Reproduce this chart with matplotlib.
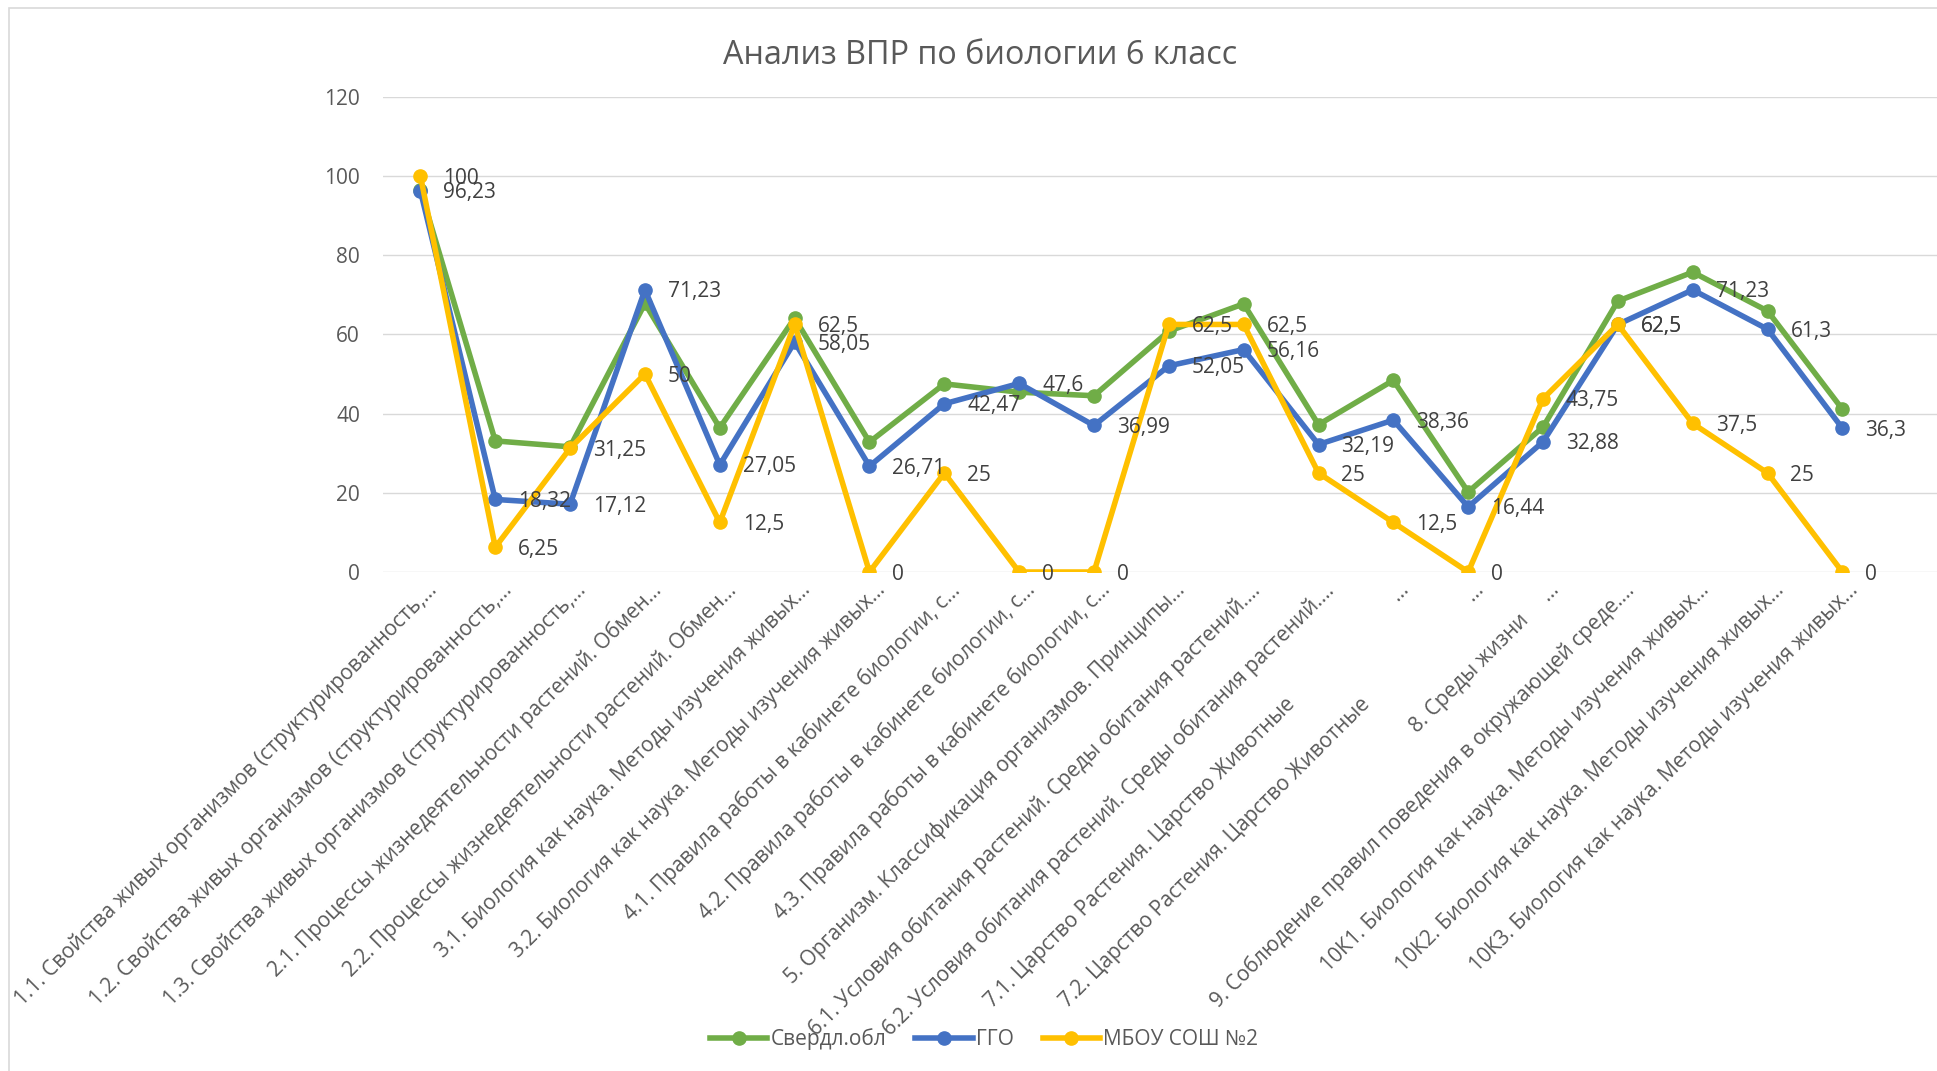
import matplotlib
matplotlib.use('Agg')
import matplotlib.pyplot as plt
from matplotlib.lines import Line2D
from matplotlib.patches import Rectangle
from matplotlib.transforms import ScaledTranslation

plt.rcParams['font.family'] = ['Open Sans', 'DejaVu Sans']

# data
categories = [
    '1.1. Свойства живых организмов (структурированность,...',
    '1.2. Свойства живых организмов (структурированность,...',
    '1.3. Свойства живых организмов (структурированность,...',
    '2.1. Процессы жизнедеятельности растений. Обмен...',
    '2.2. Процессы жизнедеятельности растений. Обмен...',
    '3.1. Биология как наука. Методы изучения живых...',
    '3.2. Биология как наука. Методы изучения живых...',
    '4.1. Правила работы в кабинете биологии, с...',
    '4.2. Правила работы в кабинете биологии, с...',
    '4.3. Правила работы в кабинете биологии, с...',
    '5. Организм. Классификация организмов. Принципы...',
    '6.1. Условия обитания растений. Среды обитания растений....',
    '6.2. Условия обитания растений. Среды обитания растений....',
    '7.1. Царство Растения. Царство Животные' + ' ' * 27 + '...',
    '7.2. Царство Растения. Царство Животные' + ' ' * 27 + '...',
    '8. Среды жизни' + ' ' * 5 + '...',
    '9. Соблюдение правил поведения в окружающей среде....',
    '10К1. Биология как наука. Методы изучения живых...',
    '10К2. Биология как наука. Методы изучения живых...',
    '10К3. Биология как наука. Методы изучения живых...',
]
sverdl = [96.5, 33.1, 31.6, 67.8, 36.4, 64.1, 32.8, 47.5, 45.4, 44.5,
          60.8, 67.7, 37.2, 48.4, 20.2, 36.6, 68.4, 75.7, 65.9, 41.1]
ggo = [96.23, 18.32, 17.12, 71.23, 27.05, 58.05, 26.71, 42.47, 47.6, 36.99,
       52.05, 56.16, 32.19, 38.36, 16.44, 32.88, 62.5, 71.23, 61.3, 36.3]
mbou = [100, 6.25, 31.25, 50, 12.5, 62.5, 0, 25, 0, 0,
        62.5, 62.5, 25, 12.5, 0, 43.75, 62.5, 37.5, 25, 0]
series_names = ['Свердл.обл', 'ГГО', 'МБОУ СОШ №2']
title = 'Анализ ВПР по биологии 6 класс'

green = '#70AD47'
blue = '#4472C4'
yellow = '#FFC000'
txt = '#595959'
lbl = '#404040'

W, H = 1937, 1071
fig = plt.figure(figsize=(W / 100, H / 100), dpi=100)

# chart border (cropped on the right and bottom)
fig.patches.append(Rectangle((9 / W, -0.1), 1.2, 1 - 8 / H + 0.1, transform=fig.transFigure,
                             fill=False, edgecolor='#D9D9D9', linewidth=1.2))

ax = fig.add_axes([383 / W, 1 - 572 / H, (W - 383) / W, (572 - 96.7) / H])
x = list(range(len(categories)))
ax.set_xlim(-0.5, -0.5 + (W - 383) / 74.84)
ax.set_ylim(0, 120)
ax.set_yticks(range(0, 121, 20))
ax.grid(axis='y', color='#D9D9D9', linewidth=1.0)
ax.set_axisbelow(True)
for s in ax.spines.values():
    s.set_visible(False)
ax.tick_params(axis='y', length=0, pad=16.5, labelsize=15, labelcolor=txt)
ax.tick_params(axis='x', length=0, pad=10.8, labelsize=15, labelcolor=txt)

ax.set_xticks(x)
ax.set_xticklabels(categories, rotation=45, rotation_mode='anchor', ha='right', va='center')
shift = ScaledTranslation(0.13, 0, fig.dpi_scale_trans)
for t in ax.get_xticklabels():
    t.set_transform(t.get_transform() + shift)

lw, ms = 4.0, 9.5
ax.plot(x, sverdl, color=green, lw=lw, marker='o', ms=ms, zorder=3)
ax.plot(x, ggo, color=blue, lw=lw, marker='o', ms=ms, zorder=4)
ax.plot(x, mbou, color=yellow, lw=lw, marker='o', ms=ms, zorder=5)

def fmt(v):
    return f'{v:g}'.replace('.', ',')

for vals in (ggo, mbou):
    for i, v in enumerate(vals):
        ax.annotate(fmt(v), (i, v), xytext=(16.5, -1.5), textcoords='offset points',
                    ha='left', va='center', fontsize=15, color=lbl, zorder=6)

fig.text(980.6 / W, 1 - 64 / H, title, ha='center', va='baseline', fontsize=23.3, color=txt)

handles = [Line2D([], [], color=c, lw=lw, marker='o', ms=ms) for c in (green, blue, yellow)]
fig.legend(handles, series_names, loc='center', bbox_to_anchor=(984 / W, 1 - 1039 / H),
           ncol=3, frameon=False, fontsize=15, handlelength=2.75, handletextpad=0.15,
           columnspacing=1.4, labelcolor=txt)

fig.savefig('out.png', dpi=100)
